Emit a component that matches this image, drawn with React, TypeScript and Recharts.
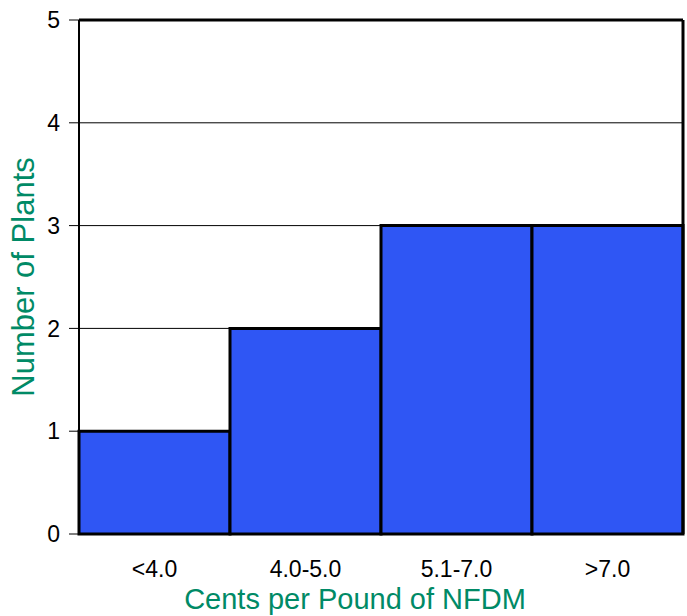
import React from 'react';
import { BarChart, Bar, XAxis, YAxis, CartesianGrid, ReferenceLine, Label } from 'recharts';

// values
const categories = ['<4.0', '4.0-5.0', '5.1-7.0', '>7.0'];
const plantCounts = [1, 2, 3, 3];
const yTicks = [0, 1, 2, 3, 4, 5];
const boundaryTicks = [0, 1, 2, 3, 4];

const data = categories.map((category, i) => ({
  category,
  plants: plantCounts[i],
  pos: i + 0.5,
}));

const FONT = '"Liberation Sans", Arial, sans-serif';
const GREEN = '#008a66';
const BLUE = '#2f56f4';

export default function App() {
  return (
    <div style={{ position: 'absolute', left: 0, top: 0, fontFamily: FONT }}>
      <BarChart
        width={687}
        height={616}
        data={data}
        margin={{ top: 20, right: 0, bottom: 0, left: 0 }}
        barCategoryGap={0}
      >
        <CartesianGrid vertical={false} stroke="#000" strokeWidth={1} />
        {/* tick marks sit on the category boundaries */}
        <XAxis
          xAxisId={0}
          type="number"
          dataKey="pos"
          domain={[0, 4]}
          ticks={boundaryTicks}
          allowDataOverflow
          height={8}
          tick={false}
          tickSize={7}
          tickLine={{ stroke: '#000', strokeWidth: 1 }}
          axisLine={{ stroke: '#000', strokeWidth: 2 }}
        />
        <XAxis
          xAxisId="labels"
          dataKey="category"
          height={74}
          axisLine={false}
          tickLine={false}
          tickSize={0}
          tickMargin={19}
          tick={{ fill: '#000', fontSize: 23, fontFamily: FONT }}
          interval={0}
        >
          <Label
            value="Cents per Pound of NFDM"
            position="insideBottom"
            offset={7}
            dx={-26}
            style={{ fill: GREEN, fontSize: 29, fontFamily: FONT }}
          />
        </XAxis>
        <YAxis
          width={79}
          domain={[0, 5]}
          ticks={yTicks}
          interval={0}
          tickSize={10}
          tickMargin={9}
          tick={{ fill: '#000', fontSize: 23, fontFamily: FONT }}
          tickLine={{ stroke: '#000', strokeWidth: 1 }}
          axisLine={{ stroke: '#000', strokeWidth: 2 }}
        >
          <Label
            value="Number of Plants"
            position="center"
            angle={-90}
            dx={-17}
            style={{ fill: GREEN, fontSize: 31, fontFamily: FONT, textAnchor: 'middle' }}
          />
        </YAxis>
        <YAxis
          yAxisId="frame"
          orientation="right"
          width={4}
          domain={[0, 5]}
          tick={false}
          tickLine={false}
          axisLine={{ stroke: '#000', strokeWidth: 3 }}
        />
        <ReferenceLine y={5} stroke="#000" strokeWidth={3} />
        <Bar
          xAxisId="labels"
          dataKey="plants"
          fill={BLUE}
          stroke="#000"
          strokeWidth={3}
          isAnimationActive={false}
        />
      </BarChart>
    </div>
  );
}
